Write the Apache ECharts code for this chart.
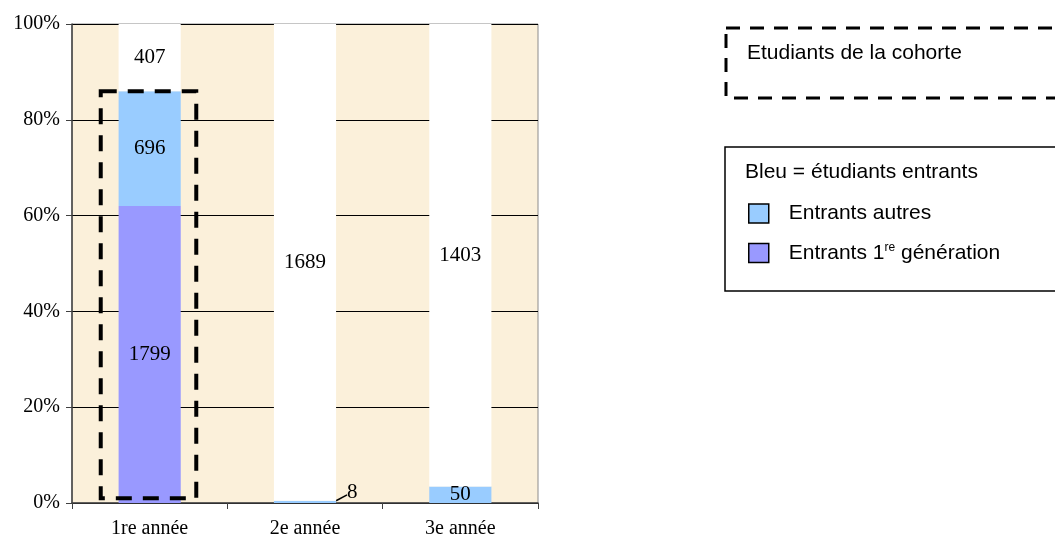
<!DOCTYPE html>
<html>
<head>
<meta charset="utf-8">
<script src="https://cdn.jsdelivr.net/npm/echarts@6/dist/echarts.min.js"></script>
<style>
  html, body { margin: 0; padding: 0; background: #fff; }
  #chart { width: 1055px; height: 539px; }
</style>
</head>
<body>
<div id="chart"></div>
<script>
// Effectifs par année (nombre d'étudiants)
const categories = ['1re année', '2e année', '3e année'];
const entrantsPremiereGen = [1799, 0, 0];
const entrantsAutres = [696, 8, 50];
const nonEntrants = [407, 1689, 1403];
const yTicks = [0, 20, 40, 60, 80, 100];

const totals = categories.map((_, i) => entrantsPremiereGen[i] + entrantsAutres[i] + nonEntrants[i]);
const pct = arr => arr.map((v, i) => v / totals[i] * 100);

// Cadre « étudiants de la cohorte » : entrants de 1re année
const cohorteIndex = 0;
const cohorteTop = (entrantsPremiereGen[0] + entrantsAutres[0]) / totals[0] * 100;
const cohorteBottom = 1;

const serif = 'Liberation Serif';
const sans = 'Liberation Sans';
const axisFont = 20;
const valueFont = 21;
const legendFont = 21;

function valueLabel(raw) {
  return {
    show: true,
    position: 'inside',
    color: '#000',
    fontFamily: serif,
    fontSize: valueFont,
    formatter: p => raw[p.dataIndex] > 0 ? String(raw[p.dataIndex]) : ''
  };
}

const chart = echarts.init(document.getElementById('chart'), null, { renderer: 'canvas' });

chart.setOption({
  animation: false,
  backgroundColor: '#fff',
  grid: {
    left: 72, right: 517, top: 24, bottom: 36,
    show: true,
    backgroundColor: '#FBF0DA',
    borderColor: '#8c8c8c',
    borderWidth: 1
  },
  legend: {
    orient: 'vertical',
    left: 748,
    top: 203,
    padding: 0,
    icon: 'rect',
    itemWidth: 20,
    itemHeight: 19,
    itemGap: 18,
    selectedMode: false,
    data: ['Entrants autres', 'Entrants 1re génération'],
    itemStyle: { borderColor: '#000', borderWidth: 1.5 },
    textStyle: {
      fontFamily: sans,
      fontSize: legendFont,
      color: '#000',
      padding: [0, 0, 0, 15],
      rich: {
        sup: { fontFamily: sans, fontSize: 12, color: '#000', padding: [0, 0, 10, 0] },
        txt: { fontFamily: sans, fontSize: legendFont, color: '#000' }
      }
    },
    formatter: name => name === 'Entrants 1re génération'
      ? '{txt|Entrants 1}{sup|re}{txt| génération}'
      : '{txt|' + name + '}'
  },
  xAxis: {
    type: 'category',
    data: categories,
    axisLine: { lineStyle: { color: '#404040', width: 1.5 } },
    axisTick: { show: true, length: 6, lineStyle: { color: '#404040' } },
    axisLabel: { color: '#000', fontFamily: serif, fontSize: axisFont, margin: 16 }
  },
  yAxis: {
    type: 'value',
    min: yTicks[0],
    max: yTicks[yTicks.length - 1],
    interval: 20,
    axisLine: { show: true, lineStyle: { color: '#404040', width: 1.5 } },
    axisTick: { show: true, length: 6, lineStyle: { color: '#404040' } },
    axisLabel: { color: '#000', fontFamily: serif, fontSize: axisFont, margin: 12, formatter: '{value}%' },
    splitLine: { show: true, lineStyle: { color: '#000', width: 1 } }
  },
  series: [
    {
      name: 'Entrants 1re génération',
      type: 'bar',
      stack: 'total',
      barWidth: '40%',
      data: pct(entrantsPremiereGen),
      itemStyle: { color: '#9999FF' },
      label: valueLabel(entrantsPremiereGen)
    },
    {
      name: 'Entrants autres',
      type: 'bar',
      stack: 'total',
      data: pct(entrantsAutres).map((v, i) => {
        if (i === 1) {
          return {
            value: v,
            label: { position: 'right', offset: [6, -9], lineHeight: 4 }
          };
        }
        return v;
      }),
      itemStyle: { color: '#99CCFF' },
      label: valueLabel(entrantsAutres),
      labelLine: { show: true, lineStyle: { color: '#000', width: 1.5 } }
    },
    {
      name: 'Étudiants non entrants',
      type: 'bar',
      stack: 'total',
      data: pct(nonEntrants),
      itemStyle: { color: '#FFFFFF' },
      label: valueLabel(nonEntrants)
    },
    {
      name: 'Cohorte',
      type: 'custom',
      data: [[cohorteIndex, cohorteBottom, cohorteTop]],
      z: 10,
      renderItem: (params, api) => {
        const band = api.size([1, 0])[0];
        const top = api.coord([api.value(0), api.value(2)]);
        const bottom = api.coord([api.value(0), api.value(1)]);
        const left = top[0] - band * 0.315;
        const right = top[0] + band * 0.3;
        return {
          type: 'rect',
          shape: { x: left, y: top[1], width: right - left, height: bottom[1] - top[1] },
          style: { fill: 'none', stroke: '#000', lineWidth: 4, lineDash: [16, 11] }
        };
      }
    }
  ],
  graphic: [
    {
      type: 'rect',
      shape: { x: 726, y: 28, width: 420, height: 70 },
      style: { fill: 'none', stroke: '#000', lineWidth: 3, lineDash: [14, 10] }
    },
    {
      type: 'text',
      x: 747, y: 53,
      style: { text: 'Etudiants de la cohorte', fontFamily: sans, fontSize: legendFont, fill: '#000', verticalAlign: 'middle' }
    },
    {
      type: 'rect',
      shape: { x: 725, y: 147, width: 420, height: 144 },
      style: { fill: '#fff', stroke: '#000', lineWidth: 1.5 },
      z: -1
    },
    {
      type: 'text',
      x: 745, y: 172,
      style: { text: 'Bleu = étudiants entrants', fontFamily: sans, fontSize: legendFont, fill: '#000', verticalAlign: 'middle' }
    }
  ]
});
</script>
</body>
</html>
